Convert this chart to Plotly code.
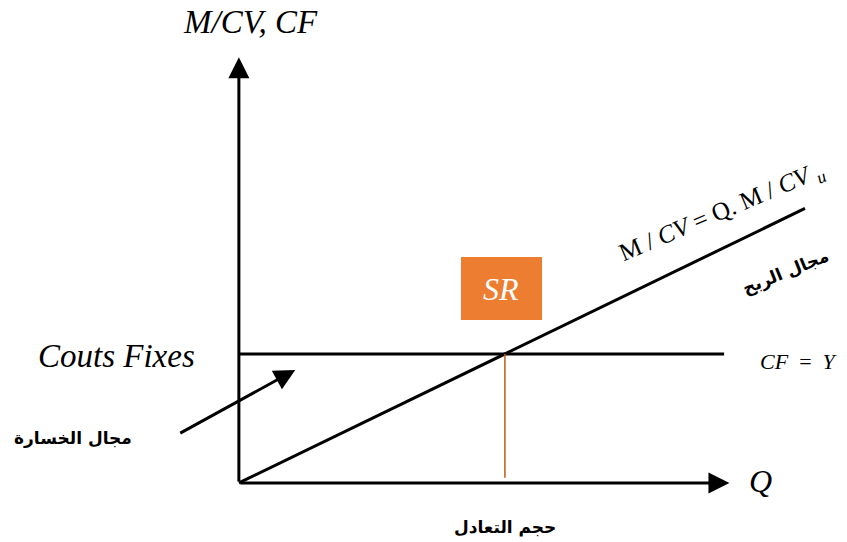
import plotly.graph_objects as go

# ---- data (conceptual units) ----
Q_BE = 5.0            # break-even quantity
CF_LEVEL = 5.0        # fixed costs
MCV_U = 1.0           # unit contribution margin
Q_LINE_END = 10.64    # end of M/CV line
Q_CF_END = 9.12       # end of CF line
Q_AXIS_END = 9.22     # tip of Q axis
Y_AXIS_END = 16.5     # tip of Y axis
LOSS_ARROW_FROM = [-1.13, 1.90]
LOSS_ARROW_TO = [1.06, 4.38]

W, H = 847, 542
X_RANGE = [-4.49, 11.43]
Y_RANGE = [-2.29, 18.72]

def ppx(px):
    return px / W

def ppy(py):
    return 1 - py / H

fig = go.Figure()

# CF line
fig.add_trace(go.Scatter(x=[0, Q_CF_END], y=[CF_LEVEL, CF_LEVEL], mode="lines",
                         line=dict(color="black", width=3), hoverinfo="skip"))
# M/CV line
fig.add_trace(go.Scatter(x=[0, Q_LINE_END], y=[0, Q_LINE_END * MCV_U], mode="lines",
                         line=dict(color="black", width=3), hoverinfo="skip"))
# break-even vertical
fig.add_trace(go.Scatter(x=[Q_BE, Q_BE], y=[0.2, CF_LEVEL], mode="lines",
                         line=dict(color="#C55A11", width=1.5), hoverinfo="skip"))

arrow_common = dict(xref="x", yref="y", axref="x", ayref="y", text="", showarrow=True,
                    arrowhead=2, arrowsize=1.4, arrowwidth=3, arrowcolor="black",
                    standoff=0, startstandoff=0)
# axes
fig.add_annotation(x=0, y=Y_AXIS_END, ax=0, ay=0, **arrow_common)
fig.add_annotation(x=Q_AXIS_END, y=0, ax=0, ay=0, **arrow_common)
# loss arrow
fig.add_annotation(x=LOSS_ARROW_TO[0], y=LOSS_ARROW_TO[1],
                   ax=LOSS_ARROW_FROM[0], ay=LOSS_ARROW_FROM[1], **arrow_common)

serif = "Liberation Serif"
arab = "DejaVu Sans"

def label(text, x, y, size, family, color="black", angle=0, **kw):
    fig.add_annotation(x=ppx(x), y=ppy(y), xref="paper", yref="paper", text=text,
                       showarrow=False, textangle=angle,
                       font=dict(size=size, family=family, color=color),
                       xanchor="center", yanchor="middle", **kw)

label("<i>M/CV, CF</i>", 250, 22, 33, serif)
label("<i>Couts Fixes</i>", 117, 356, 33, serif)
label("<i>Q</i>", 760, 481, 32, serif)
label("M / <i>CV</i> = Q. M / <i>CV</i> <sub><i>u</i></sub>", 722, 212, 25, serif, angle=-23)
label("<i>CF</i>  =  <i>Y</i>", 799, 362, 22, serif)
label("<b>مجال الربح</b>", 785, 272, 17, arab, angle=-22)
label("<b>مجال الخسارة</b>", 73, 438, 17, arab)
label("<b>حجم التعادل</b>", 505, 527, 17, arab)

# SR box
fig.add_shape(type="rect", xref="paper", yref="paper",
              x0=ppx(461), x1=ppx(542), y0=ppy(320), y1=ppy(257),
              fillcolor="#ED7D31", line=dict(width=0), layer="below")
label("<i>SR</i>", 501, 289, 32, serif, color="white")

fig.update_layout(
    width=W, height=H, margin=dict(l=0, r=0, t=0, b=0),
    paper_bgcolor="white", plot_bgcolor="white", showlegend=False,
    xaxis=dict(range=X_RANGE, visible=False, fixedrange=True),
    yaxis=dict(range=Y_RANGE, visible=False, fixedrange=True),
)

fig.write_html("out.html", config={"displayModeBar": False},
               post_script="document.body.style.margin='0';")
